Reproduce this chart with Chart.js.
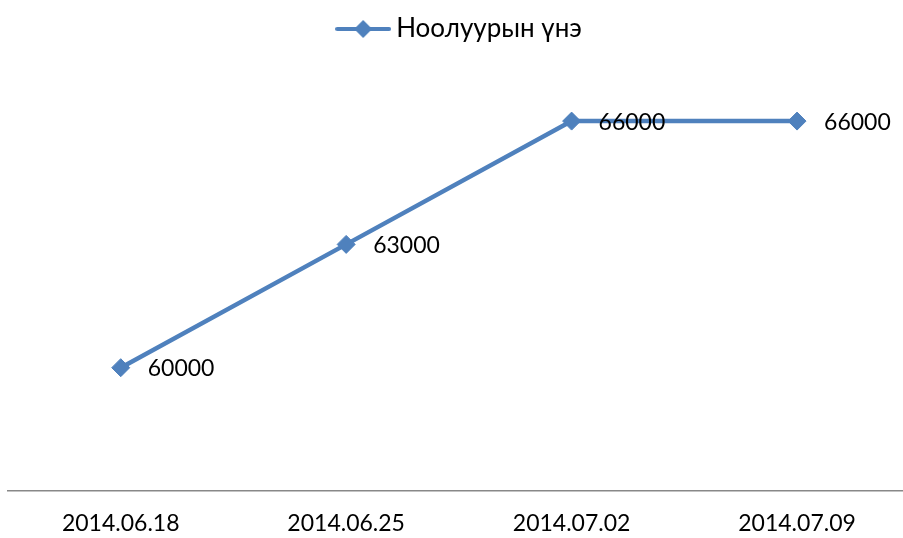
<!DOCTYPE html>
<html>
<head>
<meta charset="utf-8">
<script src="https://cdn.jsdelivr.net/npm/chart.js@4/dist/chart.umd.min.js"></script>
<style>
  html, body { margin: 0; padding: 0; background: #fff; overflow: hidden; }
  #wrap { width: 903px; height: 538px; }
</style>
</head>
<body>
<div id="wrap"><canvas id="priceChart"></canvas></div>
<script>
// ─── Data ─────────────────────────────────────────────────────────────────────
const categories = ['2014.06.18', '2014.06.25', '2014.07.02', '2014.07.09'];
const seriesName = 'Ноолуурын үнэ';
const prices = [60000, 63000, 66000, 66000];

const BLUE = '#4F81BD';
const FONT = 'Lato, "Open Sans", "DejaVu Sans", sans-serif';

// legend icon: line with a diamond in the middle
function makeLegendIcon() {
  const c = document.createElement('canvas');
  c.width = 56; c.height = 20;
  const g = c.getContext('2d');
  g.strokeStyle = BLUE; g.lineWidth = 4; g.lineCap = 'round';
  g.beginPath(); g.moveTo(2, 10); g.lineTo(54, 10); g.stroke();
  g.fillStyle = BLUE;
  g.beginPath(); g.moveTo(28, 1); g.lineTo(37, 10); g.lineTo(28, 19); g.lineTo(19, 10); g.closePath(); g.fill();
  return c;
}

// extra room under the legend, and nudge it a little to the right
const legendGap = {
  id: 'legendGap',
  beforeInit(chart) {
    const fit = chart.legend.fit;
    chart.legend.fit = function () {
      fit.call(this);
      this.height += 28;
    };
  },
  afterLayout(chart) {
    chart.legend.left += 7;
    chart.legend.right += 7;
  }
};

// value labels to the right of each point
const valueLabels = {
  id: 'valueLabels',
  afterDatasetsDraw(chart) {
    const ctx = chart.ctx;
    const meta = chart.getDatasetMeta(0);
    ctx.save();
    ctx.font = '23px ' + FONT;
    ctx.fillStyle = '#000';
    ctx.textBaseline = 'middle';
    meta.data.forEach((pt, i) => {
      ctx.fillText(String(prices[i]), pt.x + 27, pt.y + 1);
    });
    ctx.restore();
  }
};

new Chart(document.getElementById('priceChart'), {
  type: 'line',
  data: {
    datasets: [{
      label: seriesName,
      data: prices.map((v, i) => ({ x: i, y: v })),
      borderColor: BLUE,
      backgroundColor: BLUE,
      borderWidth: 4.5,
      pointStyle: 'rectRot',
      pointRadius: 9,
      pointBorderWidth: 1,
      tension: 0
    }]
  },
  options: {
    responsive: true,
    maintainAspectRatio: false,
    animation: false,
    layout: { autoPadding: false, padding: { left: 8, right: 0, top: 6, bottom: 0 } },
    plugins: {
      tooltip: { enabled: false },
      legend: {
        position: 'top',
        labels: {
          usePointStyle: true,
          pointStyle: makeLegendIcon(),
          pointStyleWidth: 40,
          color: '#000',
          font: { family: FONT, size: 26 },
          padding: 10
        }
      }
    },
    scales: {
      x: {
        type: 'linear',
        min: -0.5,
        max: 3.47,
        afterBuildTicks: axis => { axis.ticks = categories.map((_, i) => ({ value: i })); },
        afterFit: axis => { axis.height = 47; },
        grid: { display: false, drawTicks: false },
        border: { display: true, color: '#888888', width: 1.5 },
        ticks: {
          padding: 19,
          maxRotation: 0,
          color: '#000',
          font: { family: FONT, size: 23 },
          callback: v => categories[v]
        }
      },
      y: {
        display: false,
        min: 57000,
        max: 67000
      }
    }
  },
  plugins: [legendGap, valueLabels]
});
</script>
</body>
</html>
